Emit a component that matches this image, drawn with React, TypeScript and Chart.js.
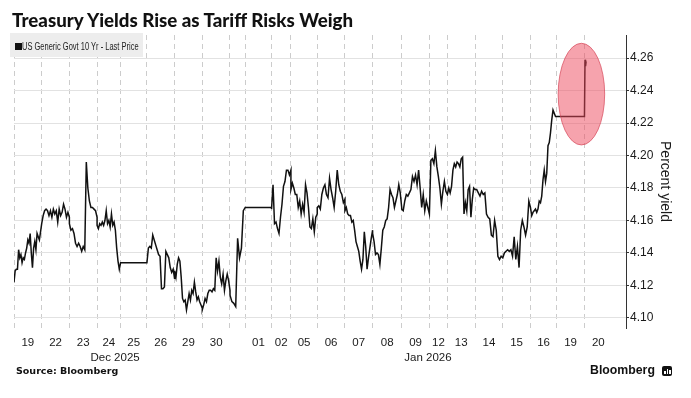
import React, { useEffect, useRef } from "react";
import { Chart, registerables } from "chart.js";

Chart.register(...registerables);

// ---- Sessions (x axis, in trading-session units) ----
const sessionLabels = ["19", "22", "23", "24", "25", "26", "29", "30", "", "01", "02", "05", "06", "07", "08", "09", "12", "13", "14", "15", "16", "19", "20"];
const sessionStart = [0, 1, 2, 3, 3.85, 4.8, 5.8, 6.8, 7.8, 8.35, 9.3, 10, 10.95, 11.95, 12.95, 14, 15, 15.65, 16.65, 17.65, 18.65, 19.6, 20.6];
const lastTickTime = 20.66;
const axisEnd = 22.1;
const monthLabels = ["Dec 2025", "Jan 2026"];
const monthLabelTimes = [3.65, 14.95];

// ---- Y ticks ----
const yMajorTicks = [4.1, 4.12, 4.14, 4.16, 4.18, 4.2, 4.22, 4.24, 4.26];
const yMinorTicks = [4.11, 4.13, 4.15, 4.17, 4.19, 4.21, 4.23, 4.25, 4.27];
const yMin = 4.0938;
const yMax = 4.2742;

// ---- US Generic Govt 10 Yr yields, intraday, per session ----
const dec19 = [4.122, 4.129, 4.13, 4.13, 4.142, 4.137, 4.139, 4.134, 4.137, 4.136, 4.14, 4.143, 4.148, 4.146, 4.152, 4.14, 4.131, 4.143, 4.147, 4.142, 4.152, 4.15, 4.148, 4.153, 4.158];
const dec22 = [4.158, 4.163, 4.166, 4.167, 4.166, 4.163, 4.166, 4.162, 4.167, 4.164, 4.166, 4.159, 4.167, 4.163, 4.165, 4.17, 4.167, 4.162, 4.165, 4.162];
const dec23 = [4.158, 4.154, 4.155, 4.152, 4.146, 4.144, 4.146, 4.144, 4.141, 4.144, 4.142, 4.196, 4.18, 4.172, 4.168, 4.168, 4.167, 4.166, 4.162];
const dec24 = [4.157, 4.155, 4.158, 4.157, 4.159, 4.157, 4.16, 4.166, 4.158, 4.16, 4.156, 4.164, 4.157, 4.159, 4.154, 4.143, 4.135, 4.13, 4.134];
const dec25 = [4.134, 4.134];
const dec26 = [4.134, 4.143, 4.144, 4.143, 4.151, 4.148, 4.145, 4.142, 4.139, 4.138, 4.118, 4.118, 4.119, 4.141, 4.139, 4.137, 4.131, 4.128, 4.13, 4.124];
const dec29 = [4.129, 4.125, 4.133, 4.137, 4.135, 4.125, 4.112, 4.11, 4.111, 4.105, 4.11, 4.115, 4.111, 4.117, 4.115, 4.122, 4.116, 4.111, 4.113, 4.11, 4.108, 4.106];
const dec30 = [4.105, 4.108, 4.112, 4.11, 4.115, 4.117, 4.117, 4.116, 4.118, 4.117, 4.137, 4.129, 4.135, 4.125, 4.121, 4.127, 4.117, 4.123, 4.127, 4.123, 4.117];
const dec31 = [4.114, 4.11, 4.109, 4.107, 4.149, 4.137, 4.143, 4.166, 4.168];
const jan01 = [4.168, 4.168];
const jan02 = [4.167, 4.182, 4.158, 4.159, 4.155, 4.152, 4.162, 4.17, 4.181, 4.184, 4.191, 4.191, 4.188, 4.191];
const jan05 = [4.179, 4.183, 4.18, 4.176, 4.176, 4.168, 4.172, 4.164, 4.17, 4.165, 4.182, 4.177, 4.168, 4.156, 4.155, 4.161, 4.153, 4.162, 4.164];
const jan06 = [4.168, 4.169, 4.167, 4.176, 4.18, 4.182, 4.176, 4.174, 4.186, 4.179, 4.174, 4.168, 4.178, 4.191, 4.182, 4.178, 4.176, 4.171, 4.173];
const jan07 = [4.166, 4.168, 4.164, 4.163, 4.163, 4.159, 4.16, 4.154, 4.147, 4.144, 4.141, 4.135, 4.13, 4.136, 4.153, 4.144, 4.13, 4.137, 4.143, 4.149, 4.154];
const jan08 = [4.152, 4.147, 4.139, 4.14, 4.139, 4.133, 4.143, 4.154, 4.156, 4.16, 4.161, 4.168, 4.179, 4.176, 4.174, 4.168, 4.172, 4.176, 4.182, 4.177, 4.168];
const jan09 = [4.167, 4.166, 4.172, 4.176, 4.175, 4.177, 4.179, 4.187, 4.184, 4.188, 4.182, 4.191, 4.18, 4.168, 4.176, 4.166, 4.172, 4.168, 4.164];
const jan12 = [4.164, 4.197, 4.198, 4.195, 4.203, 4.193, 4.187, 4.18, 4.17, 4.178, 4.184, 4.178, 4.176];
const jan13 = [4.176, 4.18, 4.177, 4.181, 4.191, 4.195, 4.193, 4.196, 4.195, 4.193, 4.198, 4.199, 4.164, 4.171, 4.166, 4.179, 4.181, 4.162, 4.173, 4.18, 4.179];
const jan14 = [4.179, 4.179, 4.177, 4.175, 4.178, 4.176, 4.177, 4.164, 4.162, 4.161, 4.151, 4.15, 4.16, 4.154, 4.138, 4.136, 4.138, 4.137];
const jan15 = [4.137, 4.14, 4.141, 4.142, 4.141, 4.142, 4.138, 4.15, 4.136, 4.144, 4.131, 4.154, 4.16, 4.156, 4.151, 4.156, 4.172, 4.168];
const jan16 = [4.168, 4.163, 4.165, 4.166, 4.167, 4.165, 4.167, 4.172, 4.171, 4.175, 4.185, 4.191, 4.184, 4.189, 4.206, 4.208, 4.214, 4.222, 4.228, 4.226, 4.224, 4.224];
const jan19 = [4.224, 4.224];
const jan20 = [4.224, 4.259, 4.255, 4.258];

const sessionValues = [dec19, dec22, dec23, dec24, dec25, dec26, dec29, dec30, dec31, jan01, jan02, jan05, jan06, jan07, jan08, jan09, jan12, jan13, jan14, jan15, jan16, jan19, jan20];

// highlight annotation (data units)
const highlight = { x: 20.49, y: 4.2378, rx: 0.84, ry: 0.0313 };

function buildPoints() {
  const pts: { x: number; y: number }[] = [];
  sessionValues.forEach((vals, i) => {
    const start = sessionStart[i];
    const end = i + 1 < sessionStart.length ? sessionStart[i + 1] : lastTickTime;
    vals.forEach((v, j) => {
      const f = vals.length > 1 ? j / (vals.length - 1) : 0;
      pts.push({ x: start + (end - start) * f, y: v });
    });
  });
  return pts;
}

const dayTickTimes: number[] = [];
const dayTickLabels: string[] = [];
sessionLabels.forEach((lab, i) => {
  if (!lab) return;
  const s = sessionStart[i];
  const e = i + 1 < sessionStart.length ? sessionStart[i + 1] : s + 1;
  dayTickTimes.push((s + e) / 2);
  dayTickLabels.push(lab);
});

const isMajor = (v: number) => Math.round(v * 100) % 2 === 0;

const highlightPlugin = {
  id: "highlightEllipse",
  afterDatasetsDraw(chart: any) {
    const { ctx, scales } = chart;
    const xs = scales.x;
    const ys = scales.y;
    const cx = xs.getPixelForValue(highlight.x);
    const cy = ys.getPixelForValue(highlight.y);
    const rx = Math.abs(xs.getPixelForValue(highlight.x + highlight.rx) - cx);
    const ry = Math.abs(ys.getPixelForValue(highlight.y + highlight.ry) - cy);
    ctx.save();
    ctx.beginPath();
    ctx.ellipse(cx, cy, rx, ry, 0, 0, Math.PI * 2);
    ctx.fillStyle = "rgba(238, 72, 92, 0.5)";
    ctx.fill();
    ctx.strokeStyle = "rgba(214, 70, 88, 0.7)";
    ctx.lineWidth = 1;
    ctx.stroke();
    ctx.restore();
  },
};

const axisFont = { family: "'Liberation Sans', Arial, sans-serif", size: 11.5 };

export default function App() {
  const canvasRef = useRef<HTMLCanvasElement | null>(null);

  useEffect(() => {
    const canvas = canvasRef.current;
    if (!canvas) return;
    const chart = new Chart(canvas, {
      type: "line",
      data: {
        datasets: [
          {
            label: "US Generic Govt 10 Yr - Last Price",
            data: buildPoints(),
            borderColor: "#111111",
            borderWidth: 1.5,
            pointRadius: 0,
            tension: 0,
            fill: false,
          },
        ],
      },
      options: {
        animation: false,
        responsive: false,
        maintainAspectRatio: false,
        layout: { padding: { left: 14, top: 35, right: 0, bottom: 28 } },
        plugins: { legend: { display: false }, tooltip: { enabled: false } },
        scales: {
          x: {
            type: "linear",
            position: "bottom",
            min: 0,
            max: axisEnd,
            weight: 0,
            afterBuildTicks: (s: any) => {
              s.ticks = sessionStart.map((v) => ({ value: v }));
            },
            ticks: { display: false },
            grid: { color: "#cccccc", lineWidth: 1, drawTicks: false },
            border: { display: false, dash: [5, 4] },
            afterFit: (s: any) => {
              s.height = 0;
            },
          },
          xDays: {
            type: "linear",
            axis: "x",
            position: "bottom",
            min: 0,
            max: axisEnd,
            weight: 1,
            afterBuildTicks: (s: any) => {
              s.ticks = dayTickTimes.map((v) => ({ value: v }));
            },
            ticks: {
              autoSkip: false,
              maxRotation: 0,
              minRotation: 0,
              padding: 8,
              color: "#1a1a1a",
              font: axisFont,
              callback: (_v: any, i: number) => dayTickLabels[i],
            },
            grid: { display: false, drawTicks: false },
            border: { display: false },
            afterFit: (s: any) => {
              s.height = 22;
            },
          },
          xMonths: {
            type: "linear",
            axis: "x",
            position: "bottom",
            min: 0,
            max: axisEnd,
            weight: 2,
            afterBuildTicks: (s: any) => {
              s.ticks = monthLabelTimes.map((v) => ({ value: v }));
            },
            ticks: {
              autoSkip: false,
              maxRotation: 0,
              minRotation: 0,
              padding: 1,
              color: "#1a1a1a",
              font: axisFont,
              callback: (_v: any, i: number) => monthLabels[i],
            },
            grid: { display: false, drawTicks: false },
            border: { display: false },
            afterFit: (s: any) => {
              s.height = 20;
            },
          },
          y: {
            type: "linear",
            position: "right",
            min: yMin,
            max: yMax,
            afterBuildTicks: (s: any) => {
              s.ticks = [...yMajorTicks, ...yMinorTicks].sort((a, b) => a - b).map((v) => ({ value: v }));
            },
            ticks: {
              padding: 1,
              color: "#1a1a1a",
              font: { family: "'Liberation Sans', Arial, sans-serif", size: 12 },
              callback: (v: any) => (isMajor(Number(v)) ? Number(v).toFixed(2) : ""),
            },
            grid: {
              color: (c: any) => (c.tick && isMajor(c.tick.value) ? "#e2e2e2" : "rgba(0,0,0,0)"),
              lineWidth: 1,
              drawTicks: true,
              tickLength: 3,
              tickColor: "#333333",
            },
            border: { display: true, color: "#333333", width: 1 },
            title: {
              display: true,
              text: "Percent yield",
              color: "#1a1a1a",
              font: { family: "'Liberation Sans', Arial, sans-serif", size: 14 },
              padding: { top: 17.6, bottom: 0 },
            },
            afterFit: (s: any) => {
              s.width = 65;
            },
          },
        },
      } as any,
      plugins: [highlightPlugin],
    });
    return () => chart.destroy();
  }, []);

  return (
    <div style={{ position: "absolute", left: 0, top: 0, width: 691, height: 398, background: "#ffffff", overflow: "hidden" }}>
      <canvas ref={canvasRef} width={691} height={398} style={{ position: "absolute", left: 0, top: 0, width: 691, height: 398 }} />
      <div
        style={{
          position: "absolute",
          left: 12,
          top: 9,
          fontFamily: "Lato, 'Liberation Sans', sans-serif",
          fontWeight: 900,
          fontSize: 18.7,
          lineHeight: "23px",
          color: "#111",
          whiteSpace: "nowrap",
        }}
      >
        Treasury Yields Rise as Tariff Risks Weigh
      </div>
      <div
        style={{
          position: "absolute",
          left: 10,
          top: 33,
          width: 133,
          height: 24,
          background: "#ededed",
        }}
      >
        <div style={{ position: "absolute", left: 5, top: 10, width: 7, height: 7, background: "#111" }} />
        <div
          style={{
            position: "absolute",
            left: 12,
            top: 8,
            fontFamily: "'Liberation Sans', Arial, sans-serif",
            fontSize: 10,
            lineHeight: "12px",
            color: "#222",
            whiteSpace: "nowrap",
            transform: "scaleX(0.75)",
            transformOrigin: "0 0",
          }}
        >
          US Generic Govt 10 Yr - Last Price
        </div>
      </div>
      <div
        style={{
          position: "absolute",
          left: 16,
          top: 365,
          fontFamily: "'DejaVu Sans', Verdana, sans-serif",
          fontWeight: 700,
          fontSize: 9.5,
          lineHeight: "12px",
          color: "#111",
          whiteSpace: "nowrap",
        }}
      >
        Source: Bloomberg
      </div>
      <div
        style={{
          position: "absolute",
          left: 590,
          top: 363,
          fontFamily: "'Liberation Sans', Arial, sans-serif",
          fontWeight: 700,
          fontSize: 12.3,
          lineHeight: "14px",
          color: "#111",
          whiteSpace: "nowrap",
        }}
      >
        Bloomberg
      </div>
      <div style={{ position: "absolute", left: 662, top: 366, width: 10, height: 10, background: "#111", borderRadius: 2 }}>
        <div style={{ position: "absolute", left: 2, top: 5, width: 1.5, height: 3, background: "#fff" }} />
        <div style={{ position: "absolute", left: 4.5, top: 3, width: 1.5, height: 5, background: "#fff" }} />
        <div style={{ position: "absolute", left: 7, top: 4, width: 1.5, height: 4, background: "#fff" }} />
      </div>
    </div>
  );
}
